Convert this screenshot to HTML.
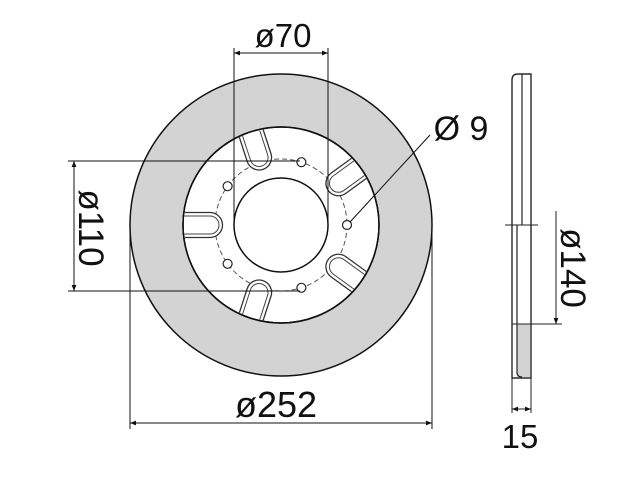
<!DOCTYPE html>
<html><head><style>
html,body{margin:0;padding:0;background:#fff;}
svg{display:block;}
text{font-family:"Liberation Sans",sans-serif;fill:#111;}
</style></head><body>
<svg width="625" height="493" viewBox="0 0 625 493" xmlns="http://www.w3.org/2000/svg">
<defs>
<marker id="a" viewBox="0 0 10 10" refX="10" refY="5" markerWidth="8" markerHeight="6" orient="auto-start-reverse" markerUnits="userSpaceOnUse"><path d="M0,1 L10,5 L0,9 z" fill="#111"/></marker>
<clipPath id="inner"><circle cx="281" cy="225" r="97"/></clipPath>
</defs>
<circle cx="281" cy="225" r="151" fill="#d3d3d3" stroke="#111" stroke-width="1.5"/>
<circle cx="281" cy="225" r="98" fill="#fff" stroke="#111" stroke-width="1.5"/>
<circle cx="281" cy="225" r="66" fill="none" stroke="#555" stroke-width="1" stroke-dasharray="5,3"/>
<g clip-path="url(#inner)">
<g transform="translate(281,225) rotate(180)">
<path d="M110,-12.5 L71,-12.5 A12.5,12.5 0 0 0 71,12.5 L110,12.5" fill="#fff" stroke="#333" stroke-width="1.3"/>
<path d="M110,-9 L71,-9 A9,9 0 0 0 71,9 L110,9" fill="none" stroke="#444" stroke-width="1"/>
</g>
<g transform="translate(281,225) rotate(-108)">
<path d="M110,-12.5 L71,-12.5 A12.5,12.5 0 0 0 71,12.5 L110,12.5" fill="#fff" stroke="#333" stroke-width="1.3"/>
<path d="M110,-9 L71,-9 A9,9 0 0 0 71,9 L110,9" fill="none" stroke="#444" stroke-width="1"/>
</g>
<g transform="translate(281,225) rotate(-36)">
<path d="M110,-12.5 L71,-12.5 A12.5,12.5 0 0 0 71,12.5 L110,12.5" fill="#fff" stroke="#333" stroke-width="1.3"/>
<path d="M110,-9 L71,-9 A9,9 0 0 0 71,9 L110,9" fill="none" stroke="#444" stroke-width="1"/>
</g>
<g transform="translate(281,225) rotate(36)">
<path d="M110,-12.5 L71,-12.5 A12.5,12.5 0 0 0 71,12.5 L110,12.5" fill="#fff" stroke="#333" stroke-width="1.3"/>
<path d="M110,-9 L71,-9 A9,9 0 0 0 71,9 L110,9" fill="none" stroke="#444" stroke-width="1"/>
</g>
<g transform="translate(281,225) rotate(108)">
<path d="M110,-12.5 L71,-12.5 A12.5,12.5 0 0 0 71,12.5 L110,12.5" fill="#fff" stroke="#333" stroke-width="1.3"/>
<path d="M110,-9 L71,-9 A9,9 0 0 0 71,9 L110,9" fill="none" stroke="#444" stroke-width="1"/>
</g>
</g>
<circle cx="281" cy="225" r="98" fill="none" stroke="#111" stroke-width="1.5"/>
<circle cx="281" cy="225" r="47" fill="#fff" stroke="#111" stroke-width="1.5"/>
<g fill="#fff" stroke="#222" stroke-width="1.2">
<circle cx="347" cy="225" r="4.5"/>
<circle cx="301.4" cy="162.2" r="4.5"/>
<circle cx="227.6" cy="186.2" r="4.5"/>
<circle cx="227.6" cy="263.8" r="4.5"/>
<circle cx="301.4" cy="287.8" r="4.5"/>
</g>
<g stroke="#111" stroke-width="1" fill="none">
<line x1="234" y1="48" x2="234" y2="225"/>
<line x1="328" y1="48" x2="328" y2="225"/>
<line x1="234" y1="53" x2="328" y2="53" marker-start="url(#a)" marker-end="url(#a)"/>
<line x1="68" y1="161" x2="300" y2="161"/>
<line x1="68" y1="291" x2="300" y2="291"/>
<line x1="74" y1="161" x2="74" y2="291" marker-start="url(#a)" marker-end="url(#a)"/>
<line x1="130" y1="225" x2="130" y2="429"/>
<line x1="432" y1="225" x2="432" y2="429"/>
<line x1="130" y1="423" x2="432" y2="423" marker-start="url(#a)" marker-end="url(#a)"/>
<line x1="350" y1="222" x2="430" y2="135"/>
</g>
<text x="283" y="47" font-size="33" text-anchor="middle">ø70</text>
<text x="461" y="140" font-size="34" text-anchor="middle">Ø 9</text>
<text x="276" y="417" font-size="36" text-anchor="middle">ø252</text>
<text transform="translate(79,228) rotate(90)" font-size="35" text-anchor="middle">ø110</text>
<g stroke="#222" stroke-width="1.2" fill="none">
<path d="M512,378 L512,80 Q512,74 518,74 L531,74 L531,378 Z" fill="#fff"/>
<rect x="517" y="324" width="14" height="54" fill="#d3d3d3" stroke="none"/>
<path d="M517,324 L517,372 Q517,377 522,377" />
<line x1="522" y1="74" x2="522" y2="225"/>
<line x1="517" y1="225" x2="517" y2="324"/>
<line x1="512" y1="324" x2="562" y2="324" stroke-width="1"/>
<line x1="505" y1="225" x2="538" y2="225" stroke-width="1"/>
<path d="M512,378 L512,80 Q512,74 518,74 L531,74 L531,378 Z"/>
<line x1="556" y1="211" x2="556" y2="324" stroke-width="1" marker-end="url(#a)"/>
<line x1="512" y1="378" x2="512" y2="413" stroke-width="1"/>
<line x1="531" y1="378" x2="531" y2="413" stroke-width="1"/>
<line x1="512" y1="409" x2="531" y2="409" stroke-width="1" marker-start="url(#a)" marker-end="url(#a)"/>
</g>
<text transform="translate(561,268) rotate(90)" font-size="35" text-anchor="middle">ø140</text>
<text x="520" y="448" font-size="33" text-anchor="middle">15</text>
</svg>
</body></html>
